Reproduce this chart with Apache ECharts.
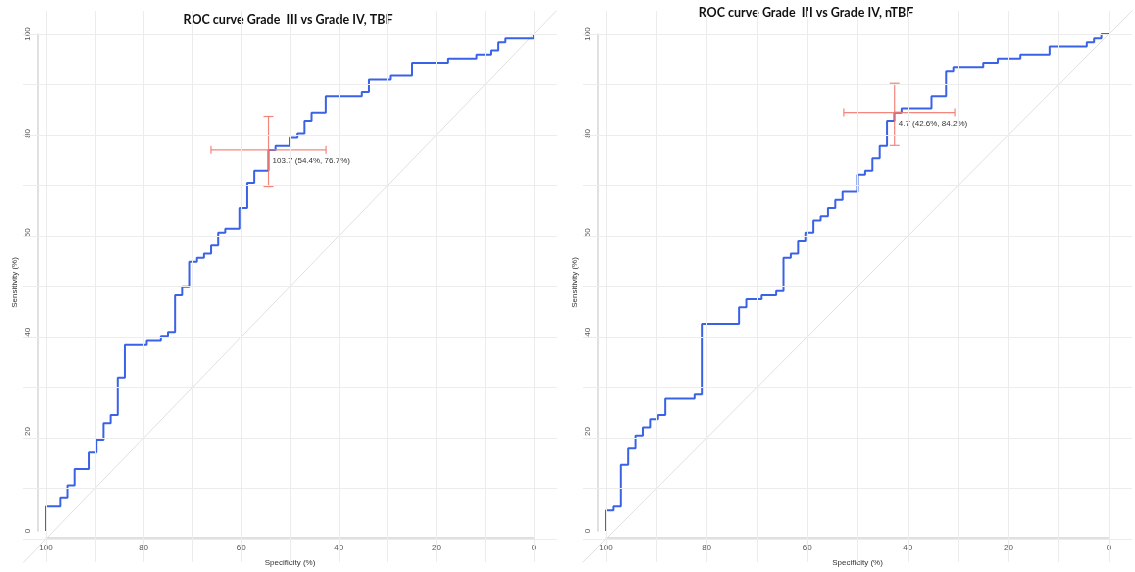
<!DOCTYPE html>
<html><head><meta charset="utf-8">
<script src="https://cdn.jsdelivr.net/npm/echarts@6/dist/echarts.min.js"></script>
<style>html,body{margin:0;padding:0;background:#fff}#c{width:1135px;height:572px}</style>
</head><body><div id="c"></div><script>
// ---------- data ----------
const chartTitles = ['ROC curve Grade  III vs Grade IV, TBF', 'ROC curve Grade  III vs Grade IV, nTBF'];
const axisTicks = [0, 20, 40, 60, 80, 100];
const gridValues = [0, 10, 20, 30, 40, 50, 60, 70, 80, 90, 100];
const xAxisName = 'Specificity (%)';
const yAxisName = 'Sensitivity (%)';

// TBF: specificity (%) at each step and sensitivity (%) reached after the step
const tbfSpec = [100, 97.06, 95.59, 94.12, 91.18, 89.71, 88.24, 86.76, 85.29, 83.82, 79.41, 76.47, 75.0, 73.53, 72.06, 70.59, 69.12, 67.65, 66.18, 64.71, 63.24, 60.29, 58.82, 57.35, 54.41, 52.94, 50.0, 48.53, 47.06, 45.59, 42.65, 35.29, 33.82, 29.41, 25.0, 17.65, 11.76, 8.82, 7.35, 5.88, 0];
const tbfSens = [5.0, 6.67, 9.17, 12.5, 15.83, 18.33, 21.67, 23.33, 30.83, 37.5, 38.33, 39.17, 40.0, 47.5, 49.17, 54.17, 55.0, 55.83, 57.5, 60.0, 60.83, 65.0, 70.0, 72.5, 76.67, 77.5, 79.17, 80.0, 82.5, 84.17, 87.5, 88.33, 90.83, 91.67, 94.17, 95.0, 95.83, 96.67, 98.33, 99.17, 100];

// nTBF
const ntbfSpec = [100, 98.53, 97.06, 95.59, 94.12, 92.65, 91.18, 89.71, 88.24, 82.35, 80.88, 73.53, 72.06, 69.12, 66.18, 64.71, 63.24, 61.76, 60.29, 58.82, 57.35, 55.88, 54.41, 52.94, 50.0, 48.53, 47.06, 45.59, 44.12, 42.65, 41.18, 35.29, 32.35, 30.88, 25.0, 22.06, 17.65, 11.76, 4.41, 2.94, 1.47, 0];
const ntbfSens = [4.17, 5.0, 13.33, 16.67, 19.17, 20.83, 22.5, 23.33, 26.67, 27.5, 41.67, 45.0, 46.67, 47.5, 48.33, 55.0, 55.83, 58.33, 60.0, 62.5, 63.33, 65.0, 66.67, 68.33, 71.67, 72.5, 75.0, 77.5, 82.5, 84.17, 85.0, 87.5, 92.5, 93.33, 94.17, 95.0, 95.83, 97.5, 98.33, 99.17, 100, 100];

// best threshold with confidence intervals
const bestThreshold = ['103.7', '4.7'];
const bestSpec = [54.4, 42.6];
const bestSens = [76.7, 84.2];
const specCILow = [42.6, 30.6];
const specCIHigh = [66.2, 52.7];
const sensCILow = [69.3, 77.6];
const sensCIHigh = [83.4, 90.1];

// ---------- layout ----------
const FONT = "'Liberation Sans', Arial, sans-serif";
const layout = [
  { left: 46, width: 488, titleX: 288, titleY: 20 },
  { left: 606, width: 503, titleX: 806, titleY: 13 }
];
const TOP = 34, HEIGHT = 505, PAD = 23;

function steps(spec, sens) {
  const d = [[spec[0], 0]];
  for (let i = 0; i < spec.length; i++) {
    if (i > 0) d.push([spec[i], sens[i - 1]]);
    d.push([spec[i], sens[i]]);
  }
  return d;
}
const curves = [steps(tbfSpec, tbfSens), steps(ntbfSpec, ntbfSens)];

const grids = [], xAxes = [], yAxes = [], series = [], graphics = [];
layout.forEach((L, k) => {
  const pxPerX = L.width / 100, pxPerY = HEIGHT / 100;
  const padX = PAD / pxPerX, padY = PAD / pxPerY;
  // panel grid (grid lines + diagonal)
  grids.push({ left: L.left - PAD, top: TOP - PAD, width: L.width + 2 * PAD, height: HEIGHT + 2 * PAD });
  xAxes.push({ gridIndex: 2 * k, type: 'value', min: -padX, max: 100 + padX, inverse: true, show: false });
  yAxes.push({ gridIndex: 2 * k, type: 'value', min: -padY, max: 100 + padY, show: false });
  // data grid
  grids.push({ left: L.left, top: TOP, width: L.width, height: HEIGHT });
  xAxes.push({
    gridIndex: 2 * k + 1, type: 'value', min: 0, max: 100, interval: 20, inverse: true, offset: 7,
    axisLine: { show: true, onZero: false, lineStyle: { color: '#d6d6d6', width: 1.5 } },
    axisTick: { show: false }, splitLine: { show: false },
    axisLabel: { fontSize: 8, color: '#555', margin: 6, fontFamily: FONT },
    name: xAxisName, nameLocation: 'middle', nameGap: 21,
    nameTextStyle: { fontSize: 8, color: '#333', fontFamily: FONT }
  });
  yAxes.push({
    gridIndex: 2 * k + 1, type: 'value', min: 0, max: 100, interval: 20, offset: 8,
    axisLine: { show: true, onZero: false, lineStyle: { color: '#d6d6d6', width: 1.5 } },
    axisTick: { show: false }, splitLine: { show: false },
    axisLabel: { fontSize: 8, color: '#555', margin: 6, rotate: 90, fontFamily: FONT },
    name: yAxisName, nameLocation: 'middle', nameGap: 19,
    nameTextStyle: { fontSize: 8, color: '#333', fontFamily: FONT }
  });
  // grid lines + diagonal
  series.push({
    type: 'line', xAxisIndex: 2 * k, yAxisIndex: 2 * k, z: 1,
    data: [[100 + 2 * padX, -2 * padX], [-2 * padX, 100 + 2 * padX]],
    showSymbol: false, silent: true,
    lineStyle: { color: '#e0e0e0', width: 1 },
    markLine: {
      silent: true, symbol: ['none', 'none'], label: { show: false },
      lineStyle: { color: '#ececec', width: 1, type: 'solid' },
      data: gridValues.map(v => ({ xAxis: v })).concat(gridValues.map(v => ({ yAxis: v })))
    }
  });
  // ROC curve
  series.push({
    type: 'line', xAxisIndex: 2 * k + 1, yAxisIndex: 2 * k + 1, z: 3,
    data: curves[k], showSymbol: false,
    lineStyle: { color: '#3a62e6', width: 2 }
  });
  // best threshold with CI
  series.push({
    type: 'custom', xAxisIndex: 2 * k + 1, yAxisIndex: 2 * k + 1, z: 4,
    data: [[bestSpec[k], bestSens[k], specCILow[k], specCIHigh[k], sensCILow[k], sensCIHigh[k]]],
    renderItem: (params, api) => {
      const x = api.value(0), y = api.value(1);
      const c = api.coord([x, y]);
      const a = api.coord([api.value(2), y]), b = api.coord([api.value(3), y]);
      const lo = api.coord([x, api.value(4)]), hi = api.coord([x, api.value(5)]);
      const st = { stroke: '#f2786e', lineWidth: 1.2, opacity: 0.9 };
      const ln = (x1, y1, x2, y2) => ({ type: 'line', shape: { x1, y1, x2, y2 }, style: st });
      return {
        type: 'group', children: [
          ln(a[0], a[1], b[0], b[1]),
          ln(a[0], a[1] - 4, a[0], a[1] + 4),
          ln(b[0], b[1] - 4, b[0], b[1] + 4),
          ln(lo[0], lo[1], hi[0], hi[1]),
          ln(lo[0] - 5, lo[1], lo[0] + 5, lo[1]),
          ln(hi[0] - 5, hi[1], hi[0] + 5, hi[1]),
          { type: 'text', x: c[0] + 4, y: c[1] + 11,
            style: { text: bestThreshold[k] + ' (' + x.toFixed(1) + '%, ' + y.toFixed(1) + '%)',
              fill: '#333', fontSize: 8, fontFamily: FONT, verticalAlign: 'middle', align: 'left' } }
        ]
      };
    }
  });
  graphics.push({
    type: 'text', x: L.titleX, y: L.titleY,
    style: { text: chartTitles[k], fontSize: 12.5, fontWeight: 'bold', fontFamily: 'Lato, sans-serif',
      fill: '#111', align: 'center', verticalAlign: 'middle' }
  });
});

const chart = echarts.init(document.getElementById('c'));
chart.setOption({
  animation: false,
  backgroundColor: '#fff',
  graphic: graphics,
  grid: grids, xAxis: xAxes, yAxis: yAxes, series: series
});
</script></body></html>
